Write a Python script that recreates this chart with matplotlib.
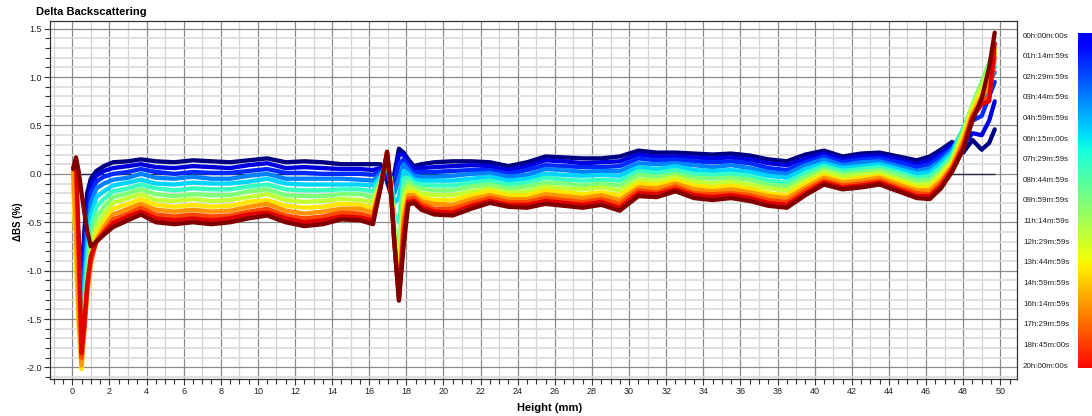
import numpy as np
import matplotlib
matplotlib.use("Agg")
import matplotlib.pyplot as plt
from matplotlib.ticker import MultipleLocator, FormatStrFormatter

# sample heights (mm) shared by every scan
height_mm = [0.05, 0.2, 0.35, 0.5, 0.65, 0.8, 1.0, 1.3, 1.7, 2.2,
             3.0, 3.7, 4.5, 5.5, 6.5, 7.5, 8.5, 9.5, 10.5, 11.5, 12.5, 13.5, 14.5, 15.5, 16.2,
             16.6, 16.96, 17.15, 17.35, 17.6, 17.85, 18.1, 18.4,
             18.8, 19.5, 20.5, 21.5, 22.5, 23.5, 24.5, 25.5, 26.5, 27.5, 28.5, 29.5, 30.5,
             31.5, 32.5, 33.5, 34.5, 35.5, 36.5, 37.5, 38.5, 39.5, 40.5, 41.5, 42.5, 43.5,
             44.5, 45.5, 46.2,
             46.8, 47.4, 48.0, 48.5, 49.0, 49.4, 49.7]

# delta backscattering (%) per scan
scan_00h00 = [-0.02, -0.25, -0.70, -1.10, -0.60, -0.20, -0.05, 0.03, 0.08, 0.12,
              0.13, 0.15, 0.13, 0.12, 0.14, 0.13, 0.12, 0.14, 0.16, 0.12, 0.13, 0.12, 0.10, 0.10, 0.10,
              0.10, -0.08, -0.20, 0.00, 0.26, 0.22, 0.15, 0.08,
              0.10, 0.12, 0.13, 0.13, 0.12, 0.08, 0.12, 0.18, 0.17, 0.16, 0.16, 0.18, 0.24, 0.22, 0.22,
              0.21, 0.20, 0.21, 0.19, 0.15, 0.13, 0.20, 0.24, 0.18, 0.21, 0.22, 0.18, 0.14, 0.18,
              0.25, 0.33, 0.22, 0.35, 0.25, 0.32, 0.46]
scan_01h40 = [-0.03, -0.30, -0.75, -1.15, -0.75, -0.35, -0.12, -0.02, 0.03, 0.06,
              0.08, 0.10, 0.07, 0.06, 0.08, 0.07, 0.06, 0.09, 0.11, 0.06, 0.07, 0.06, 0.05, 0.05, 0.04,
              0.06, -0.02, -0.15, -0.05, 0.20, 0.20, 0.12, 0.05,
              0.06, 0.07, 0.08, 0.09, 0.08, 0.04, 0.08, 0.14, 0.13, 0.11, 0.12, 0.13, 0.20, 0.18, 0.18,
              0.17, 0.16, 0.17, 0.15, 0.11, 0.09, 0.16, 0.21, 0.15, 0.18, 0.19, 0.15, 0.10, 0.14,
              0.21, 0.30, 0.30, 0.42, 0.40, 0.55, 0.75]
scan_03h20 = [-0.05, -0.35, -0.85, -1.25, -0.90, -0.50, -0.20, -0.08, -0.03, 0.00,
              0.02, 0.05, 0.02, 0.00, 0.02, 0.01, 0.01, 0.03, 0.05, 0.01, 0.01, 0.00, 0.00, 0.00, -0.01,
              0.03, 0.03, -0.10, -0.10, 0.10, 0.15, 0.08, 0.01,
              0.02, 0.02, 0.03, 0.04, 0.04, 0.00, 0.04, 0.09, 0.08, 0.07, 0.07, 0.08, 0.16, 0.14, 0.15,
              0.13, 0.12, 0.13, 0.11, 0.06, 0.04, 0.12, 0.18, 0.12, 0.15, 0.16, 0.12, 0.07, 0.10,
              0.18, 0.27, 0.40, 0.55, 0.60, 0.80, 0.95]
scan_05h00 = [-0.05, -0.40, -0.95, -1.32, -1.05, -0.65, -0.30, -0.15, -0.10, -0.06,
              -0.04, 0.00, -0.04, -0.05, -0.03, -0.05, -0.05, -0.02, 0.00, -0.05, -0.05, -0.05, -0.05, -0.06, -0.07,
              0.00, 0.07, -0.08, -0.20, -0.05, 0.10, 0.04, -0.02,
              -0.03, -0.03, -0.02, 0.00, 0.01, -0.03, -0.01, 0.05, 0.04, 0.02, 0.03, 0.03, 0.11, 0.10, 0.11,
              0.09, 0.07, 0.09, 0.06, 0.02, 0.00, 0.09, 0.15, 0.09, 0.12, 0.13, 0.08, 0.03, 0.06,
              0.14, 0.25, 0.45, 0.62, 0.72, 0.95, 1.05]
scan_06h40 = [-0.04, -0.50, -1.05, -1.42, -1.20, -0.80, -0.42, -0.24, -0.18, -0.12,
              -0.09, -0.06, -0.10, -0.11, -0.09, -0.10, -0.10, -0.08, -0.05, -0.10, -0.11, -0.11, -0.11, -0.11, -0.12,
              -0.03, 0.10, -0.05, -0.30, -0.25, 0.03, 0.00, -0.06,
              -0.07, -0.07, -0.07, -0.05, -0.03, -0.07, -0.05, 0.00, -0.01, -0.02, -0.01, -0.02, 0.07, 0.05, 0.08,
              0.04, 0.03, 0.04, 0.02, -0.02, -0.04, 0.05, 0.11, 0.06, 0.08, 0.10, 0.05, 0.00, 0.02,
              0.11, 0.22, 0.47, 0.68, 0.85, 1.05, 1.10]
scan_08h20 = [-0.03, -0.60, -1.20, -1.52, -1.30, -0.95, -0.55, -0.34, -0.26, -0.18,
              -0.15, -0.11, -0.15, -0.17, -0.15, -0.16, -0.16, -0.13, -0.11, -0.16, -0.17, -0.17, -0.16, -0.16, -0.18,
              -0.06, 0.12, -0.05, -0.42, -0.50, -0.05, -0.04, -0.09,
              -0.11, -0.12, -0.12, -0.09, -0.07, -0.11, -0.09, -0.04, -0.06, -0.07, -0.06, -0.07, 0.03, 0.01, 0.04,
              0.00, -0.01, 0.00, -0.02, -0.07, -0.09, 0.01, 0.08, 0.03, 0.05, 0.07, 0.02, -0.04, -0.02,
              0.07, 0.19, 0.46, 0.70, 0.92, 1.12, 1.20]
scan_10h00 = [-0.02, -0.70, -1.35, -1.65, -1.45, -1.10, -0.68, -0.45, -0.34, -0.24,
              -0.20, -0.16, -0.21, -0.23, -0.21, -0.22, -0.22, -0.18, -0.16, -0.22, -0.23, -0.23, -0.21, -0.21, -0.24,
              -0.08, 0.14, -0.05, -0.55, -0.75, -0.15, -0.08, -0.13,
              -0.15, -0.17, -0.17, -0.13, -0.11, -0.15, -0.13, -0.09, -0.10, -0.12, -0.10, -0.12, -0.01, -0.03, 0.00,
              -0.04, -0.05, -0.04, -0.06, -0.11, -0.13, -0.03, 0.05, 0.00, 0.02, 0.04, -0.01, -0.07, -0.06,
              0.03, 0.16, 0.44, 0.72, 0.95, 1.15, 1.25]
scan_11h40 = [0.00, -0.80, -1.50, -1.80, -1.55, -1.20, -0.80, -0.55, -0.42, -0.30,
              -0.25, -0.21, -0.27, -0.28, -0.26, -0.28, -0.27, -0.24, -0.21, -0.27, -0.29, -0.28, -0.26, -0.27, -0.29,
              -0.10, 0.16, -0.08, -0.62, -0.95, -0.25, -0.13, -0.16,
              -0.20, -0.22, -0.22, -0.18, -0.15, -0.19, -0.18, -0.13, -0.15, -0.16, -0.14, -0.17, -0.06, -0.07, -0.03,
              -0.08, -0.10, -0.08, -0.11, -0.15, -0.17, -0.07, 0.02, -0.03, -0.01, 0.01, -0.05, -0.11, -0.10,
              0.00, 0.13, 0.42, 0.70, 0.90, 1.10, 1.30]
scan_13h20 = [0.00, -0.90, -1.60, -2.02, -1.60, -1.25, -0.90, -0.63, -0.50, -0.36,
              -0.31, -0.26, -0.32, -0.34, -0.32, -0.34, -0.33, -0.29, -0.27, -0.33, -0.35, -0.34, -0.31, -0.32, -0.35,
              -0.12, 0.18, -0.10, -0.68, -1.10, -0.35, -0.18, -0.19,
              -0.24, -0.27, -0.27, -0.22, -0.18, -0.22, -0.22, -0.17, -0.19, -0.21, -0.19, -0.22, -0.10, -0.11, -0.07,
              -0.12, -0.14, -0.12, -0.15, -0.20, -0.22, -0.10, -0.01, -0.07, -0.04, -0.02, -0.08, -0.14, -0.14,
              -0.04, 0.11, 0.38, 0.66, 0.85, 1.00, 1.30]
scan_15h00 = [0.02, -0.60, -1.50, -1.98, -1.62, -1.25, -0.93, -0.68, -0.55, -0.42,
              -0.36, -0.31, -0.37, -0.39, -0.37, -0.39, -0.38, -0.34, -0.31, -0.38, -0.41, -0.39, -0.36, -0.36, -0.40,
              -0.13, 0.20, -0.12, -0.70, -1.20, -0.45, -0.22, -0.22,
              -0.28, -0.31, -0.32, -0.26, -0.22, -0.26, -0.26, -0.21, -0.23, -0.25, -0.22, -0.27, -0.14, -0.15, -0.10,
              -0.16, -0.18, -0.16, -0.19, -0.23, -0.25, -0.14, -0.04, -0.09, -0.07, -0.04, -0.11, -0.17, -0.17,
              -0.07, 0.08, 0.34, 0.62, 0.80, 0.90, 1.25]
scan_16h40 = [0.05, 0.10, -0.90, -1.90, -1.60, -1.20, -0.90, -0.70, -0.59, -0.47,
              -0.41, -0.35, -0.42, -0.44, -0.42, -0.44, -0.43, -0.39, -0.36, -0.43, -0.46, -0.44, -0.40, -0.41, -0.45,
              -0.14, 0.21, -0.12, -0.70, -1.26, -0.55, -0.26, -0.25,
              -0.31, -0.36, -0.36, -0.30, -0.25, -0.29, -0.29, -0.25, -0.27, -0.29, -0.26, -0.31, -0.17, -0.19, -0.13,
              -0.20, -0.21, -0.20, -0.22, -0.27, -0.29, -0.17, -0.07, -0.12, -0.10, -0.07, -0.14, -0.20, -0.21,
              -0.10, 0.06, 0.30, 0.60, 0.75, 0.80, 1.20]
scan_18h20 = [0.06, 0.15, -0.70, -1.85, -1.55, -1.15, -0.85, -0.70, -0.61, -0.51,
              -0.44, -0.39, -0.46, -0.48, -0.46, -0.48, -0.46, -0.42, -0.40, -0.46, -0.50, -0.48, -0.44, -0.45, -0.48,
              -0.15, 0.22, -0.12, -0.70, -1.30, -0.65, -0.29, -0.28,
              -0.34, -0.39, -0.40, -0.33, -0.28, -0.32, -0.32, -0.28, -0.30, -0.32, -0.29, -0.35, -0.20, -0.21, -0.16,
              -0.22, -0.24, -0.22, -0.25, -0.30, -0.32, -0.20, -0.09, -0.14, -0.12, -0.09, -0.16, -0.23, -0.23,
              -0.13, 0.04, 0.27, 0.58, 0.72, 0.75, 1.35]
scan_20h00 = [0.05, 0.17, 0.02, -0.20, -0.40, -0.58, -0.75, -0.70, -0.63, -0.55,
              -0.48, -0.42, -0.50, -0.52, -0.50, -0.52, -0.50, -0.46, -0.43, -0.50, -0.54, -0.52, -0.47, -0.48, -0.52,
              -0.15, 0.23, -0.12, -0.70, -1.31, -0.75, -0.32, -0.30,
              -0.37, -0.42, -0.43, -0.36, -0.30, -0.34, -0.35, -0.31, -0.33, -0.35, -0.32, -0.38, -0.23, -0.24, -0.18,
              -0.25, -0.27, -0.25, -0.28, -0.33, -0.35, -0.22, -0.11, -0.16, -0.14, -0.11, -0.18, -0.25, -0.26,
              -0.15, 0.02, 0.25, 0.55, 0.78, 1.10, 1.46]

scans = [scan_00h00, scan_01h40, scan_03h20, scan_05h00, scan_06h40, scan_08h20, scan_10h00,
         scan_11h40, scan_13h20, scan_15h00, scan_16h40, scan_18h20, scan_20h00]
scan_hours = [0, 1.667, 3.333, 5, 6.667, 8.333, 10, 11.667, 13.333, 15, 16.667, 18.333, 20]

time_labels = ["00h:00m:00s", "01h:14m:59s", "02h:29m:59s", "03h:44m:59s", "04h:59m:59s",
               "06h:15m:00s", "07h:29m:59s", "08h:44m:59s", "09h:59m:59s", "11h:14m:59s",
               "12h:29m:59s", "13h:44m:59s", "14h:59m:59s", "16h:14m:59s", "17h:29m:59s",
               "18h:45m:00s", "20h:00m:00s"]

plt.rcParams["font.family"] = ["Liberation Sans", "DejaVu Sans"]
plt.rcParams["axes.unicode_minus"] = False

W, H = 1092, 416
fig = plt.figure(figsize=(W / 100, H / 100), dpi=100)
ax = fig.add_axes([50 / W, 1 - 379 / H, 967 / W, 358 / H])
ax.set_xlim(-1.2, 50.9)
ax.set_ylim(-2.12, 1.58)

# grid: light every 1 mm / 0.1 %, darker every 2 mm / 0.5 %
for v in range(-1, 52):
    ax.axvline(v, color="#8a8a8a" if v % 2 == 0 else "#d2d2d2", lw=0.9, zorder=0)
for k in range(-21, 16):
    ax.axhline(k / 10, color="#8a8a8a" if k % 5 == 0 else "#dadada", lw=0.9 if k % 5 == 0 else 1.2, zorder=0)

# reference scan (zero line)
ax.hlines(0, height_mm[0], height_mm[-1], color="#2c2c48", lw=1.0, zorder=1)

cmap = plt.get_cmap("jet")
for hours, scan in zip(scan_hours, scans):
    ax.plot(height_mm, scan, color=cmap(hours / 20), lw=3.1, solid_joinstyle="round",
            solid_capstyle="round", zorder=2)

ax.xaxis.set_major_locator(MultipleLocator(2))
ax.xaxis.set_minor_locator(MultipleLocator(0.5))
ax.yaxis.set_major_locator(MultipleLocator(0.5))
ax.yaxis.set_minor_locator(MultipleLocator(0.1))
ax.yaxis.set_major_formatter(FormatStrFormatter("%.1f"))
ax.tick_params(which="both", direction="out", length=4, width=0.8, color="#333333",
               labelsize=6.5, labelcolor="#222222", pad=2)
ax.tick_params(which="minor", length=3.5)
for s in ax.spines.values():
    s.set_color("#333333")
    s.set_linewidth(0.9)

fig.text(36 / W, 1 - 12 / H, "Delta Backscattering", ha="left", va="center",
         fontsize=8, fontweight="bold")
fig.text(550 / W, 1 - 408 / H, "Height (mm)", ha="center", va="center",
         fontsize=8, fontweight="bold")
fig.text(18 / W, 1 - 222 / H, "ΔBS (%)", ha="center", va="center", rotation=90,
         fontsize=7, fontweight="bold")

# colour scale on the right
cax = fig.add_axes([1078 / W, 1 - 368 / H, 14 / W, 335 / H])
cax.imshow(np.linspace(0.1, 0.9, 256).reshape(-1, 1), cmap="jet", vmin=0, vmax=1, aspect="auto")
cax.axis("off")
n = len(time_labels)
for i, lab in enumerate(time_labels):
    y = 36 + i * (366 - 36) / (n - 1)
    fig.text(1023 / W, 1 - y / H, lab, ha="left", va="center", fontsize=5.8, color="#222222")

fig.savefig("out.png", dpi=100)
